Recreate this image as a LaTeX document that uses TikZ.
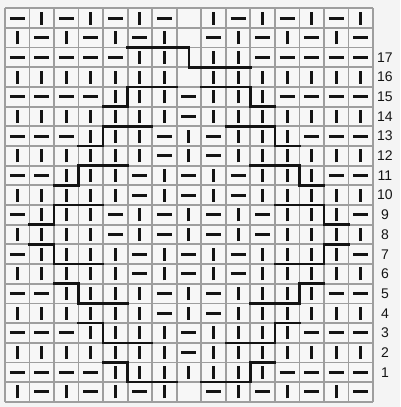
\documentclass[tikz,border=0pt]{standalone}
\usepackage{fontspec}
\setmainfont{Liberation Sans}
\definecolor{bgc}{HTML}{F4F4F4}
\definecolor{gridc}{HTML}{9E9E9E}
\definecolor{inkc}{HTML}{141414}
\begin{document}
\begin{tikzpicture}[x=24.53pt,y=-19.67pt,
  gridline/.style={draw=gridc,line width=1.7pt},
  sym/.style={draw=inkc,line width=3pt},
  cable/.style={draw=inkc,line width=2.4pt,line join=miter,line cap=rect},
  lab/.style={font=\fontsize{14pt}{14pt}\selectfont,text=inkc,inner sep=0pt}]
\useasboundingbox[fill=bgc] (-0.2038,-0.422) rectangle (16.103,20.269);
\fill[white!97!black] (0,0) rectangle (15,20);
\foreach \i in {0,...,15} \draw[gridline] (\i,0) -- (\i,20);
\foreach \j in {0,...,20} \draw[gridline] (0,\j) -- (15,\j);
\foreach \row [count=\r] in {
 {H,V,H,V,H,V,H,O,V,H,V,H,V,H,V},
 {V,H,V,H,V,H,V,O,H,V,H,V,H,V,H},
 {H,H,H,H,H,V,V,O,V,V,H,H,H,H,H},
 {V,V,V,V,V,V,V,O,V,V,V,V,V,V,V},
 {H,H,H,H,V,V,V,H,V,V,V,H,H,H,H},
 {V,V,V,V,V,V,V,H,V,V,V,V,V,V,V},
 {H,H,H,V,V,V,H,V,H,V,V,V,H,H,H},
 {V,V,V,V,V,V,H,V,H,V,V,V,V,V,V},
 {H,H,V,V,V,H,V,H,V,H,V,V,V,H,H},
 {V,V,V,V,V,H,V,H,V,H,V,V,V,V,V},
 {H,V,V,V,H,V,H,V,H,V,H,V,V,V,H},
 {V,V,V,V,H,V,H,V,H,V,H,V,V,V,V},
 {H,V,V,V,V,H,V,H,V,H,V,V,V,V,H},
 {V,V,V,V,V,H,V,H,V,H,V,V,V,V,V},
 {H,H,V,V,V,V,H,V,H,V,V,V,V,H,H},
 {V,V,V,V,V,V,H,V,H,V,V,V,V,V,V},
 {H,H,H,V,V,V,V,H,V,V,V,V,H,H,H},
 {V,V,V,V,V,V,V,H,V,V,V,V,V,V,V},
 {H,H,H,H,V,V,V,V,V,V,V,H,H,H,H},
 {V,H,V,H,V,H,V,O,H,V,H,V,H,V,H}}{
  \foreach \s [count=\c] in \row {
    \if\s H \draw[sym] (\c-0.5,\r-0.5) ++(-7.5pt,0) -- ++(15pt,0); \fi
    \if\s V \draw[sym] (\c-0.5,\r-0.5) ++(0,-6.5pt) -- ++(0,13pt); \fi
  }
}
% cable outline
\draw[cable] (5,2) -- (7.5,2) -- (7.5,3) -- (10,3);
\draw[cable] (7,4) -- (5,4) -- (5,5) -- (4,5);
\draw[cable] (6,6) -- (4,6) -- (4,7) -- (3,7);
\draw[cable] (5,8) -- (3,8) -- (3,9) -- (2,9);
\draw[cable] (4,10) -- (2,10) -- (2,11) -- (1,11);
\draw[cable] (8,4) -- (10,4) -- (10,5) -- (11,5);
\draw[cable] (9,6) -- (11,6) -- (11,7) -- (12,7);
\draw[cable] (10,8) -- (12,8) -- (12,9) -- (13,9);
\draw[cable] (11,10) -- (13,10) -- (13,11) -- (14,11);
\draw[cable] (1,12) -- (2,12) -- (2,13) -- (4,13);
\draw[cable] (2,14) -- (3,14) -- (3,15) -- (5,15);
\draw[cable] (3,16) -- (4,16) -- (4,17) -- (6,17);
\draw[cable] (4,18) -- (5,18) -- (5,19) -- (7,19);
\draw[cable] (14,12) -- (13,12) -- (13,13) -- (11,13);
\draw[cable] (13,14) -- (12,14) -- (12,15) -- (10,15);
\draw[cable] (12,16) -- (11,16) -- (11,17) -- (9,17);
\draw[cable] (11,18) -- (10,18) -- (10,19) -- (8,19);
% row numbers
\foreach \k in {1,...,17} \node[lab] (l\k) at (15.49,19.5-\k) {\k};
\end{tikzpicture}
\end{document}
